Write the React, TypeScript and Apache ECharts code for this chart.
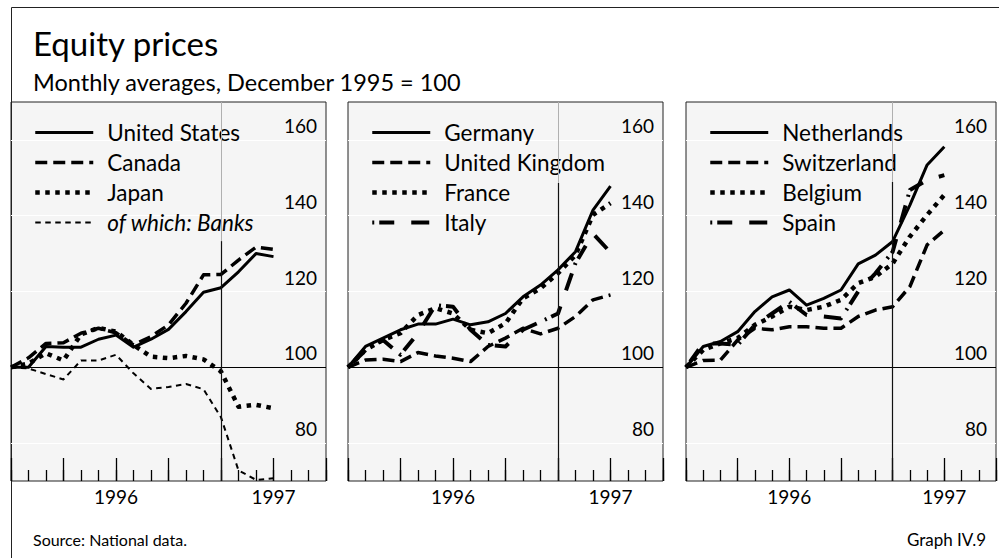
import React, { useEffect, useRef } from "react";
import * as echarts from "echarts";

// Months from December 1995 (=100) to March 1997; x index 0..15, axis runs to 18 (June 1997)
const MONTHS = [
  "1995-12", "1996-01", "1996-02", "1996-03", "1996-04", "1996-05", "1996-06", "1996-07",
  "1996-08", "1996-09", "1996-10", "1996-11", "1996-12", "1997-01", "1997-02", "1997-03",
];
const X_MAX = 18;
const YEAR_LABELS: Record<number, string> = { 6: "1996", 15: "1997" };
const Y_LABELS = [80, 100, 120, 140, 160];

// Panel 1
const unitedStates = [100, 100, 105.5, 105.3, 105.3, 107.4, 108.5, 105.3, 107.4, 110, 114.7, 119.8, 121, 125.2, 130, 129.2];
const canada = [100, 102.5, 106.3, 106.5, 109, 110.3, 109.1, 105.9, 108.1, 111.2, 116.9, 124.4, 124.5, 128.3, 131.7, 131.1];
const japan = [100, 101, 103.7, 101.8, 108.7, 110.4, 109.4, 105.9, 102.8, 102.4, 103, 102.1, 98.9, 89.6, 90.1, 89.2];
const japanBanks = [100, 99.7, 98.2, 96.8, 101.8, 101.8, 103.3, 98.4, 94.3, 94.8, 95.6, 94.2, 86.8, 72.8, 70.3, 70.7];

// Panel 2
const germany = [100, 105.5, 107.7, 109.9, 111.4, 111.4, 112.7, 111.2, 112, 114.2, 118.6, 121.7, 125.7, 130.5, 141.5, 147.8];
const unitedKingdom = [100, 101.9, 102.1, 101.5, 103.9, 103, 102.4, 101.5, 105.5, 107.7, 110.3, 108.8, 110.3, 113.4, 117.8, 119.1];
const france = [100, 104.6, 107.2, 109, 113.8, 115.6, 114.2, 109.9, 109, 111.6, 118.2, 120.8, 124.8, 129.6, 140.2, 143.3];
const italy = [100, 104.5, 107.2, 103.3, 109, 116.4, 116, 109.9, 105.9, 105.5, 109.9, 112, 114.2, 127.5, 135.3, 130.3];

// Panel 3
const netherlands = [100, 105.5, 106.8, 109.4, 114.7, 118.6, 120.4, 116.4, 118.2, 120.4, 127.3, 129.6, 133.2, 142.8, 153.4, 158.2];
const switzerland = [100, 101.8, 101.9, 107.2, 110.3, 109.9, 110.7, 110.7, 110.3, 110.3, 113.4, 115.1, 116, 121.3, 132.3, 136.2];
const belgium = [100, 104.6, 106.3, 107.7, 111.2, 113.4, 116, 115.1, 116, 117.8, 122.2, 123.9, 127.4, 134.5, 140.2, 145.5];
const spain = [100, 106.3, 106.3, 105.9, 111.2, 114.2, 117.3, 113.8, 113.4, 112.9, 120, 124.8, 130.5, 146.8, 149.4, 150.7];

const FONT = "Lato, 'Noto Sans', sans-serif";

type LineKind = "solid" | "dashed" | "dotted" | "thin" | "dotdash";
const KIND_STYLE: Record<LineKind, { width: number; type: any }> = {
  solid: { width: 3, type: "solid" },
  dashed: { width: 3.5, type: [12, 6] },
  dotted: { width: 4.5, type: [4.5, 5.5] },
  thin: { width: 2, type: [5.5, 4.5] },
  dotdash: { width: 4, type: [2, 5, 15, 17, 18, 9] },
};

const PANELS = [
  {
    left: 11,
    greyFrom: 133.3,
    series: [
      { name: "United States", values: unitedStates, kind: "solid" as LineKind },
      { name: "Canada", values: canada, kind: "dashed" as LineKind },
      { name: "Japan", values: japan, kind: "dotted" as LineKind },
      { name: "of which: Banks", values: japanBanks, kind: "thin" as LineKind, italic: true },
    ],
  },
  {
    left: 348,
    greyFrom: 148.7,
    series: [
      { name: "Germany", values: germany, kind: "solid" as LineKind },
      { name: "United Kingdom", values: unitedKingdom, kind: "dashed" as LineKind },
      { name: "France", values: france, kind: "dotted" as LineKind },
      { name: "Italy", values: italy, kind: "dotdash" as LineKind },
    ],
  },
  {
    left: 686,
    greyFrom: 148.9,
    series: [
      { name: "Netherlands", values: netherlands, kind: "solid" as LineKind },
      { name: "Switzerland", values: switzerland, kind: "dashed" as LineKind },
      { name: "Belgium", values: belgium, kind: "dotted" as LineKind },
      { name: "Spain", values: spain, kind: "dotdash" as LineKind },
    ],
  },
];

const GRID_TOP = 102;
const GRID_W = 315;
const GRID_H = 379;

function buildOption() {
  const grid: any[] = [];
  const xAxis: any[] = [];
  const yAxis: any[] = [];
  const series: any[] = [];
  const legend: any[] = [];

  PANELS.forEach((p, k) => {
    grid.push({
      left: p.left,
      top: GRID_TOP,
      width: GRID_W,
      height: GRID_H,
      show: true,
      backgroundColor: "#f5f5f5",
      borderColor: "#222",
      borderWidth: 1,
    });
    // minor (monthly) ticks
    xAxis.push({
      type: "value",
      gridIndex: k,
      min: 0,
      max: X_MAX,
      interval: 1,
      position: "bottom",
      axisLine: { show: false },
      axisTick: { show: true, inside: true, length: 11, lineStyle: { color: "#000", width: 1.3 } },
      axisLabel: { show: false },
      splitLine: { show: false },
    });
    // quarterly ticks + year labels
    xAxis.push({
      type: "value",
      gridIndex: k,
      min: 0,
      max: X_MAX,
      interval: 3,
      position: "bottom",
      axisLine: { show: false },
      axisTick: { show: true, inside: true, length: 23, lineStyle: { color: "#000", width: 1.3 } },
      axisLabel: {
        show: true,
        margin: 6,
        fontSize: 19,
        fontFamily: FONT,
        color: "#000",
        formatter: (v: number) => YEAR_LABELS[v] || "",
      },
      splitLine: { show: false },
    });
    yAxis.push({
      type: "value",
      gridIndex: k,
      min: 70,
      max: 170,
      interval: 10,
      position: "right",
      axisLine: { show: false },
      axisTick: { show: false },
      axisLabel: {
        inside: true,
        margin: 9,
        fontSize: 19,
        fontFamily: FONT,
        color: "#000",
        verticalAlign: "bottom",
        padding: [0, 0, 5, 0],
        formatter: (v: number) => (Y_LABELS.indexOf(v) >= 0 ? String(v) : ""),
      },
      splitLine: { show: true, lineStyle: { color: ["rgba(255,255,255,0)", "#ffffff"], width: 1 } },
    });

    // reference lines: 100 level and end-1996 marker
    series.push({
      type: "line",
      name: "ref" + k,
      xAxisIndex: 2 * k,
      yAxisIndex: k,
      data: [],
      silent: true,
      z: 1,
      markLine: {
        silent: true,
        symbol: "none",
        label: { show: false },
        emphasis: { disabled: true },
        data: [
          [{ coord: [0, 100], lineStyle: { color: "#000", width: 1.2, type: "solid" } }, { coord: [X_MAX, 100] }],
          [{ coord: [12, 70], lineStyle: { color: "#111", width: 1.2, type: "solid" } }, { coord: [12, p.greyFrom] }],
          [{ coord: [12, p.greyFrom], lineStyle: { color: "#b0b0b0", width: 1, type: "solid" } }, { coord: [12, 170] }],
        ],
      },
    });

    p.series.forEach((s) => {
      const st = KIND_STYLE[s.kind];
      series.push({
        type: "line",
        name: s.name,
        xAxisIndex: 2 * k,
        yAxisIndex: k,
        data: s.values.map((v, i) => [MONTHS.indexOf(MONTHS[i]), v]),
        symbol: "none",
        silent: true,
        z: 3,
        lineStyle: { color: "#000", width: st.width, type: st.type, cap: "butt", join: "round" },
        emphasis: { disabled: true },
      });
    });

    legend.push({
      orient: "vertical",
      left: p.left + 22,
      top: 121,
      itemWidth: 58,
      itemHeight: 14,
      itemGap: 7,
      selectedMode: false,
      padding: 0,
      itemStyle: { opacity: 0 },
      textStyle: { fontSize: 22.5, fontFamily: FONT, color: "#000", padding: [0, 0, 14, 9] },
      data: p.series.map((s: any) => ({
        name: s.name,
        lineStyle: { width: KIND_STYLE[s.kind as LineKind].width },
        textStyle: s.italic ? { fontStyle: "italic" } : undefined,
      })),
    });
  });

  return {
    animation: false,
    backgroundColor: "#ffffff",
    title: [
      { text: "Equity prices", left: 33, top: 26, padding: 0, textStyle: { fontSize: 33, fontWeight: "normal", color: "#000", fontFamily: FONT } },
      { text: "Monthly averages, December 1995 = 100", left: 33, top: 70, padding: 0, textStyle: { fontSize: 23.5, fontWeight: "normal", color: "#000", fontFamily: FONT } },
      { text: "Source: National data.", left: 33, top: 531, padding: 0, textStyle: { fontSize: 16, fontWeight: "normal", color: "#000", fontFamily: FONT } },
      { text: "Graph IV.9", right: 13, top: 531, padding: 0, textStyle: { fontSize: 17, fontWeight: "normal", color: "#000", fontFamily: FONT } },
    ],
    graphic: [
      {
        type: "polyline",
        silent: true,
        shape: { points: [[11.5, 558], [11.5, 7.5], [999, 7.5]] },
        style: { stroke: "#222", lineWidth: 1, fill: null },
      },
    ],
    grid,
    xAxis,
    yAxis,
    legend,
    series,
  };
}

export default function App() {
  const ref = useRef<HTMLDivElement>(null);
  useEffect(() => {
    document.body.style.margin = "0";
    if (!ref.current) return;
    const chart = echarts.init(ref.current, undefined, { renderer: "svg" });
    chart.setOption(buildOption() as any);
    return () => chart.dispose();
  }, []);
  return <div ref={ref} style={{ width: 999, height: 558 }} />;
}
